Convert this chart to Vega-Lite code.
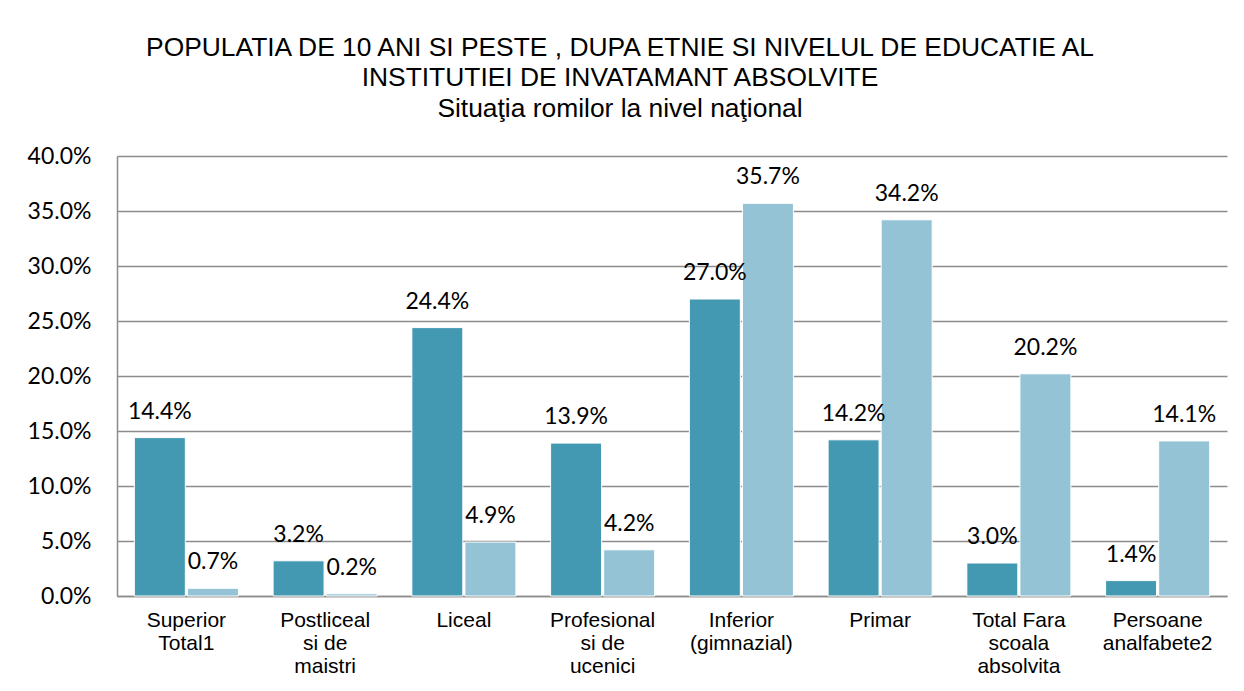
{
  "$schema": "https://vega.github.io/schema/vega-lite/v6.json",
  "width": 1244,
  "height": 691,
  "autosize": {"type": "fit", "contains": "padding"},
  "padding": {"left": 17, "top": 34, "right": 17, "bottom": 15},
  "background": "white",
  "title": {
    "text": ["POPULATIA DE 10 ANI SI PESTE , DUPA ETNIE SI NIVELUL DE EDUCATIE AL", "INSTITUTIEI DE INVATAMANT ABSOLVITE", "Situaţia romilor la nivel naţional"],
    "font": "Liberation Sans",
    "fontSize": 26.4,
    "fontWeight": "normal",
    "lineHeight": 30.5,
    "color": "#000000",
    "anchor": "middle",
    "frame": "group",
    "dx": -52,
    "offset": 23
  },
  "data": {
    "values": [
      {"nivel": "Superior Total1", "serie": "Total", "valoare": 0.144},
      {"nivel": "Superior Total1", "serie": "Romi", "valoare": 0.007},
      {"nivel": "Postliceal si de maistri", "serie": "Total", "valoare": 0.032},
      {"nivel": "Postliceal si de maistri", "serie": "Romi", "valoare": 0.002},
      {"nivel": "Liceal", "serie": "Total", "valoare": 0.244},
      {"nivel": "Liceal", "serie": "Romi", "valoare": 0.049},
      {"nivel": "Profesional si de ucenici", "serie": "Total", "valoare": 0.139},
      {"nivel": "Profesional si de ucenici", "serie": "Romi", "valoare": 0.042},
      {"nivel": "Inferior (gimnazial)", "serie": "Total", "valoare": 0.270},
      {"nivel": "Inferior (gimnazial)", "serie": "Romi", "valoare": 0.357},
      {"nivel": "Primar", "serie": "Total", "valoare": 0.142},
      {"nivel": "Primar", "serie": "Romi", "valoare": 0.342},
      {"nivel": "Total Fara scoala absolvita", "serie": "Total", "valoare": 0.030},
      {"nivel": "Total Fara scoala absolvita", "serie": "Romi", "valoare": 0.202},
      {"nivel": "Persoane analfabete2", "serie": "Total", "valoare": 0.014},
      {"nivel": "Persoane analfabete2", "serie": "Romi", "valoare": 0.141}
    ]
  },
  "encoding": {
    "x": {
      "field": "nivel",
      "type": "nominal",
      "sort": null,
      "title": null,
      "scale": {"paddingInner": 0.25, "paddingOuter": 0.125},
      "axis": {
        "labelAngle": 0,
        "labelFont": "Liberation Sans",
        "labelFontSize": 21,
        "labelColor": "#000000",
        "labelLineHeight": 23,
        "labelPadding": 13,
        "labelBaseline": "top",
        "ticks": false,
        "domainColor": "#8c8c8c",
        "domainWidth": 1.5,
        "minExtent": 80,
        "maxExtent": 80,
        "labelExpr": "datum.label == 'Superior Total1' ? ['Superior', 'Total1'] : datum.label == 'Postliceal si de maistri' ? ['Postliceal', 'si de', 'maistri'] : datum.label == 'Profesional si de ucenici' ? ['Profesional', 'si de', 'ucenici'] : datum.label == 'Inferior (gimnazial)' ? ['Inferior', '(gimnazial)'] : datum.label == 'Total Fara scoala absolvita' ? ['Total Fara', 'scoala', 'absolvita'] : datum.label == 'Persoane analfabete2' ? ['Persoane', 'analfabete2'] : datum.label"
      }
    },
    "xOffset": {
      "field": "serie",
      "type": "nominal",
      "sort": ["Total", "Romi"],
      "scale": {"paddingInner": 0.04, "paddingOuter": 0}
    },
    "y": {
      "field": "valoare",
      "type": "quantitative",
      "title": null,
      "scale": {"domain": [0, 0.4], "nice": false},
      "axis": {
        "format": ".1%",
        "values": [0, 0.05, 0.1, 0.15, 0.2, 0.25, 0.3, 0.35, 0.4],
        "labelFont": "Lato",
        "labelFontSize": 23,
        "labelColor": "#000000",
        "labelPadding": 26,
        "ticks": false,
        "domainColor": "#8c8c8c",
        "domainWidth": 1.5,
        "grid": true,
        "gridColor": "#8c8c8c",
        "gridWidth": 1.5,
        "minExtent": 100,
        "maxExtent": 100
      }
    }
  },
  "layer": [
    {
      "mark": {"type": "bar", "stroke": "white", "strokeWidth": 1},
      "encoding": {
        "color": {
          "field": "serie",
          "type": "nominal",
          "scale": {"domain": ["Total", "Romi"], "range": ["#4399B1", "#93C3D5"]},
          "legend": null
        }
      }
    },
    {
      "mark": {"type": "text", "font": "Lato", "fontSize": 23, "color": "#000000", "baseline": "alphabetic", "dy": -19},
      "encoding": {
        "text": {"field": "valoare", "type": "quantitative", "format": ".1%"}
      }
    }
  ],
  "config": {
    "view": {"stroke": null}
  }
}
